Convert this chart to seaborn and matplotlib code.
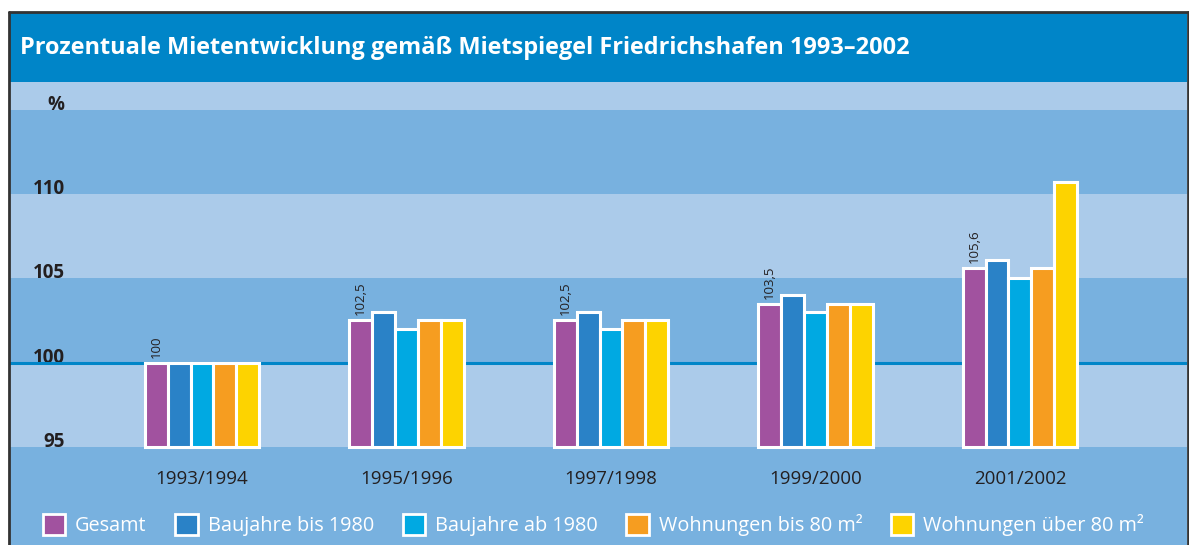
import pandas as pd
import matplotlib.pyplot as plt
import seaborn as sns
from matplotlib.patches import Patch, Rectangle
from matplotlib.lines import Line2D

# Daten
zeitraeume = ['1993/1994', '1995/1996', '1997/1998', '1999/2000', '2001/2002']
kategorien = ['Gesamt', 'Baujahre bis 1980', 'Baujahre ab 1980',
              'Wohnungen bis 80 m²', 'Wohnungen über 80 m²']
gesamt = [100, 102.5, 102.5, 103.5, 105.6]
baujahre_bis_1980 = [100, 103, 103, 104, 106.1]
baujahre_ab_1980 = [100, 102, 102, 103, 105]
wohnungen_bis_80 = [100, 102.5, 102.5, 103.5, 105.6]
wohnungen_ueber_80 = [100, 102.5, 102.5, 103.5, 110.7]
gesamt_labels = ['100', '102,5', '102,5', '103,5', '105,6']
y_ticks = [95, 100, 105, 110, 115]
y_ticklabels = ['95', '100', '105', '110', '%']
basis = 95

title = 'Prozentuale Mietentwicklung gemäß Mietspiegel Friedrichshafen 1993–2002'
farben = ['#A1529F', '#2A82C7', '#00A9E2', '#F69D20', '#FDD300']
hell = '#ABCBEA'
dunkel = '#78B1DF'
titelblau = '#0085C8'
textfarbe = '#231F20'

sns.set_style('white')
plt.rcParams['font.family'] = ['Open Sans', 'DejaVu Sans']

# Long format fuer seaborn
reihen = [gesamt, baujahre_bis_1980, baujahre_ab_1980, wohnungen_bis_80, wohnungen_ueber_80]
rows = []
for kat, werte in zip(kategorien, reihen):
    for zr, w in zip(zeitraeume, werte):
        rows.append({'Zeitraum': zr, 'Kategorie': kat, 'Wert': w, 'Hoehe': w - basis})
df = pd.DataFrame(rows)

W, H = 1189, 545
fig = plt.figure(figsize=(W / 100, H / 100), dpi=100)
ax = fig.add_axes([9 / W, 0, (1187 - 9) / W, (H - 82) / H])

ymin, ymax = 89.19, 116.64
# Hintergrundstreifen
kanten = [ymin, 95, 100, 105, 110, 115, ymax]
for i in range(len(kanten) - 1):
    ax.axhspan(kanten[i], kanten[i + 1], color=dunkel if i % 2 == 0 else hell, lw=0, zorder=0)
ax.axhline(100, color=titelblau, lw=2.2, zorder=1)

sns.barplot(data=df, x='Zeitraum', y='Hoehe', hue='Kategorie', order=zeitraeume,
            hue_order=kategorien, palette=farben, saturation=1, width=0.56,
            errorbar=None, edgecolor='white', linewidth=2.2, bottom=basis,
            legend=False, ax=ax, zorder=3)

# Werte ueber den Gesamt-Balken
for p, lab in zip(ax.containers[0], gesamt_labels):
    ax.text(p.get_x() + p.get_width() / 2, p.get_y() + p.get_height() + 0.3, lab,
            rotation=90, ha='center', va='bottom', fontsize=9.5, color=textfarbe, zorder=4)

ax.set_xlim(-0.944, 4.817)
ax.set_ylim(ymin, ymax)
ax.set_xlabel('')
ax.set_ylabel('')
ax.set_yticks(y_ticks, y_ticklabels)
ax.tick_params(axis='y', length=0, pad=-40, labelsize=13.5, labelcolor=textfarbe)
for t in ax.get_yticklabels():
    t.set_fontweight('bold')
    t.set_va('baseline')
ax.tick_params(axis='x', length=0, pad=-54, labelsize=13.5, labelcolor=textfarbe)
for s in ax.spines.values():
    s.set_visible(False)

# Titelbalken
fig.add_artist(Rectangle((9 / W, 1 - 82 / H), (1187 - 9) / W, 70 / H,
                         transform=fig.transFigure, color=titelblau, lw=0))
fig.text(20 / W, 1 - 48 / H, title, color='white', fontsize=16.9, fontweight='bold',
         va='center', ha='left')

# Rahmen
rahmen = '#333333'
fig.add_artist(Line2D([9 / W, 9 / W], [0, 1 - 12 / H], color=rahmen, lw=2, transform=fig.transFigure))
fig.add_artist(Line2D([1187.5 / W, 1187.5 / W], [0, 1 - 12 / H], color=rahmen, lw=2, transform=fig.transFigure))
fig.add_artist(Line2D([9 / W, 1187.5 / W], [1 - 12 / H, 1 - 12 / H], color=rahmen, lw=2, transform=fig.transFigure))

# Legende
handles = [Patch(facecolor=c, edgecolor='white', linewidth=2) for c in farben]
fig.legend(handles, kategorien, loc='center left', bbox_to_anchor=(43 / W, 1 - 525 / H),
           ncol=5, frameon=False, fontsize=14.3, labelcolor='white',
           handlelength=1.12, handleheight=1.27, handletextpad=0.5,
           columnspacing=1.45, borderpad=0, borderaxespad=0)

fig.savefig('out.png', dpi=100)
